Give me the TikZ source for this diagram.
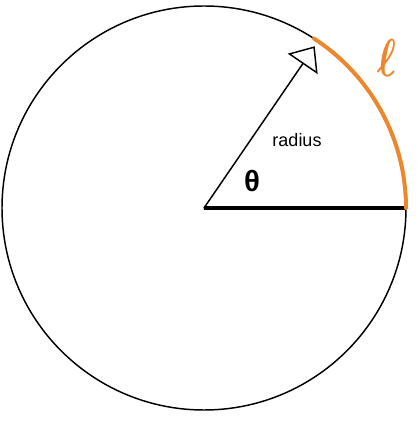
\documentclass[tikz,border=0pt]{standalone}
\usepackage{fontspec}
\setmainfont{Liberation Sans}
\usepackage{amssymb}
\usepackage{amsmath}
\usepackage{pgf,tikz}
\usetikzlibrary{calc}
\usetikzlibrary{arrows.meta}
\definecolor{ee8833}{RGB}{237,135,45}
\tikzset{arclen/.style={line width=3pt,color=ee8833,line cap=round}}

\begin{document}
\begin{tikzpicture}[line cap=round,line join=round,x=0.75pt,y=0.75pt]
\useasboundingbox (0,0) rectangle (418,421);
\coordinate (O) at (204,213);
\coordinate (R) at ($(O)+(0:202)$);
\coordinate (A) at ($(O)+(57:202)$);
\coordinate (T) at ($(O)+(55.6:196)$);
\draw [line width=1.1pt] (O) circle (202);
\draw [line width=3pt,line cap=butt] (O) -- (R);
\draw [line width=1.1pt,-{Triangle[open,length=16pt,width=27pt,line width=1.1pt]}] (O) -- (T);
\draw [arclen] (R) arc (0:57:202);
\node (rad) at (297,281) {\fontsize{13.5}{16}\selectfont radius};
\node (th) at (252,240) {\fontsize{22}{24}\selectfont\bfseries θ};
\node (ell) [color=ee8833,xscale=3,yscale=4] at (387,363) {$\boldsymbol{\ell}$};
\end{tikzpicture}
\end{document}
